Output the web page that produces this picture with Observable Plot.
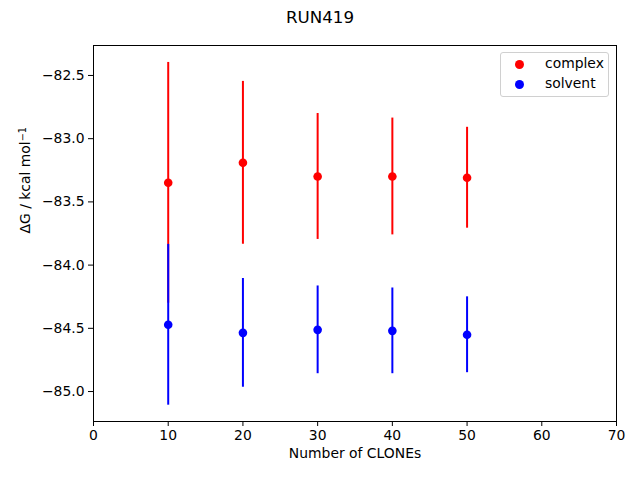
<!DOCTYPE html>
<html>
<head>
<meta charset="utf-8">
<script src="https://cdn.jsdelivr.net/npm/d3@7"></script>
<script src="https://cdn.jsdelivr.net/npm/@observablehq/plot@0.6"></script>
<style>
  body { margin: 0; background: #fff; font-family: "DejaVu Sans", sans-serif; }
  #wrap { position: relative; width: 640px; height: 480px; }
  #title { height: 30px; line-height: 34px; text-align: center; font-size: 16.7px; color: #000; }
  #legend { position: absolute; left: 500px; top: 52px; width: 107px; height: 43px;
            border: 1px solid #d0d0d0; border-radius: 3px; background: rgba(255,255,255,0.8); font-size: 13.9px; }
  .item { position: absolute; left: 0; height: 20px; }
  .sw { position: absolute; left: 14px; width: 9px; height: 9px; border-radius: 50%; }
  .lab { position: absolute; left: 44px; white-space: nowrap; }
</style>
</head>
<body>
<div id="wrap">
  <div id="title">RUN419</div>
  <div id="chart"></div>
  <div id="legend"></div>
</div>
<script>
const clones = [10, 20, 30, 40, 50];
const complexMean = [-83.349, -83.191, -83.299, -83.299, -83.309];
const complexErr  = [0.952, 0.644, 0.498, 0.462, 0.399];
const solventMean = [-84.472, -84.536, -84.512, -84.520, -84.551];
const solventErr  = [0.636, 0.43, 0.347, 0.339, 0.30];
const seriesNames = ["complex", "solvent"];
const seriesColors = ["red", "blue"];
const xTicks = [0, 10, 20, 30, 40, 50, 60, 70];
const yTicks = [-85.0, -84.5, -84.0, -83.5, -83.0, -82.5];
const titleText = "RUN419";
const xLabel = "Number of CLONEs";
const yLabelBase = "ΔG / kcal mol";
const yLabelSup = "−1";

const complex = clones.map((c, i) => ({x: c, y: complexMean[i], e: complexErr[i]}));
const solvent = clones.map((c, i) => ({x: c, y: solventMean[i], e: solventErr[i]}));

const chart = Plot.plot({
  width: 640,
  height: 450,
  marginTop: 15,
  marginBottom: 59,
  marginLeft: 93,
  marginRight: 24,
  style: {fontFamily: "DejaVu Sans, sans-serif", fontSize: "13.9px", color: "black", background: "white"},
  x: {domain: [0, 70]},
  y: {domain: [-85.237, -82.263]},
  marks: [
    Plot.ruleX(complex, {x: "x", y1: d => d.y - d.e, y2: d => d.y + d.e, stroke: seriesColors[0], strokeWidth: 2}),
    Plot.dot(complex, {x: "x", y: "y", r: 4.3, fill: seriesColors[0]}),
    Plot.ruleX(solvent, {x: "x", y1: d => d.y - d.e, y2: d => d.y + d.e, stroke: seriesColors[1], strokeWidth: 2}),
    Plot.dot(solvent, {x: "x", y: "y", r: 4.3, fill: seriesColors[1]}),
    Plot.frame({stroke: "black", strokeWidth: 1}),
    Plot.axisX({ticks: xTicks, tickSize: 5, tickPadding: 4, label: null, tickFormat: d3.format("d")}),
    Plot.axisY({ticks: yTicks, tickSize: 5, tickPadding: 4, label: null, tickFormat: d3.format(".1f")}),
    Plot.text([xLabel], {text: d => d, frameAnchor: "bottom", dy: 36}),
    Plot.text([yLabelBase + yLabelSup], {text: d => d, frameAnchor: "left", rotate: -90, dx: -68, className: "ylab"})
  ]
});
document.getElementById("chart").appendChild(chart);
document.getElementById("title").textContent = titleText;

// mathtext-like superscript for the y label
d3.select(chart).selectAll(".ylab text").each(function() {
  const t = d3.select(this);
  t.text(null);
  t.append("tspan").text(yLabelBase);
  t.append("tspan").attr("dy", "-0.45em").attr("font-size", "70%").text(yLabelSup);
});

const legend = document.getElementById("legend");
seriesNames.forEach((name, i) => {
  const item = document.createElement("div");
  item.className = "item";
  item.style.top = (i * 20 + 2) + "px";
  item.innerHTML = `<span class="sw" style="top:5px;background:${seriesColors[i]}"></span><span class="lab" style="top:0px">${name}</span>`;
  legend.appendChild(item);
});
</script>
</body>
</html>
